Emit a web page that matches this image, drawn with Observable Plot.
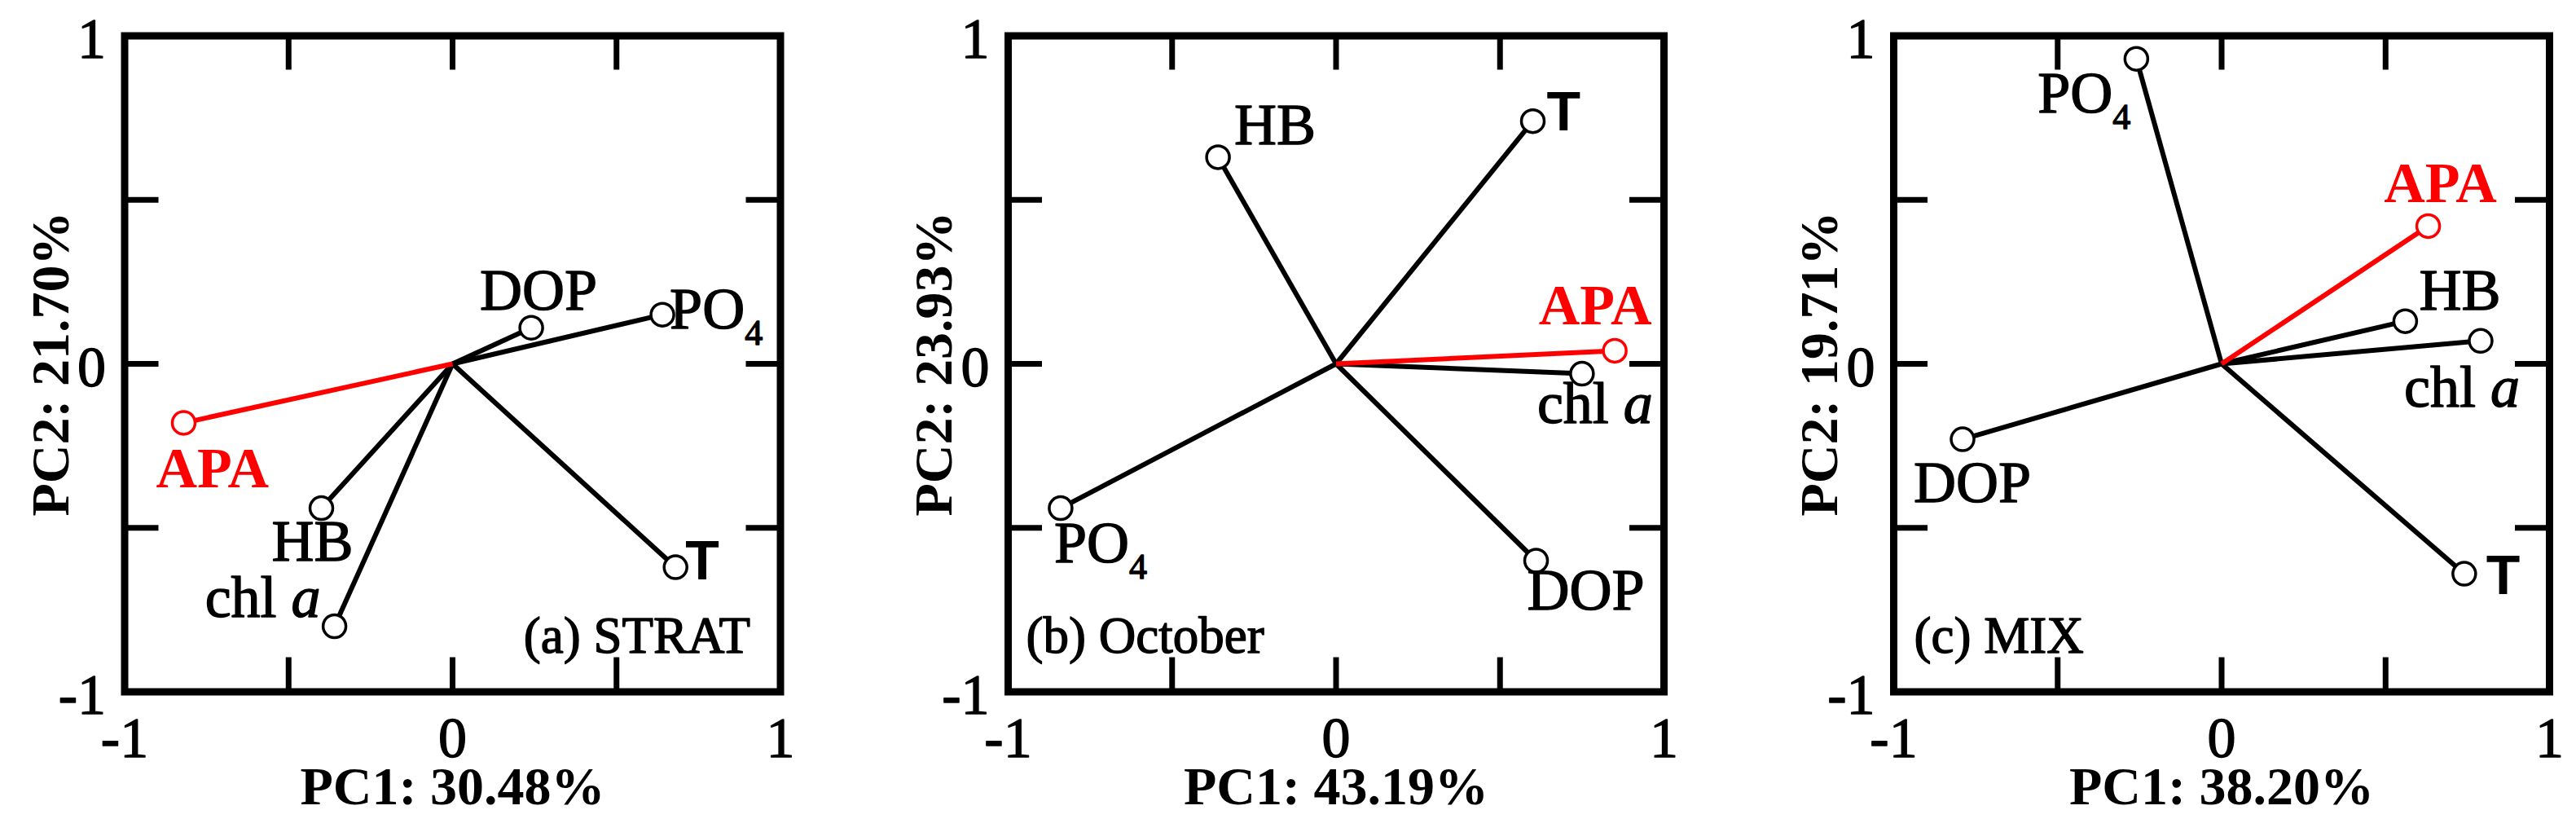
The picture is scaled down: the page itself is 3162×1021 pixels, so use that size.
<!DOCTYPE html>
<html><head><meta charset="utf-8">
<script src="https://cdn.jsdelivr.net/npm/d3@7"></script>
<script src="https://cdn.jsdelivr.net/npm/@observablehq/plot@0.6"></script>
<style>
html,body{margin:0;padding:0;background:#fff;}
#root{display:flex;width:3162px;height:1021px;}
</style></head><body><div id="root"></div>
<script>
// ---- data ----
const variables = ["APA", "DOP", "PO4", "HB", "chl a", "T"];
const panelTags = ["(a) STRAT", "(b) October", "(c) MIX"];
const pc1Labels = ["PC1: 30.48%", "PC1: 43.19%", "PC1: 38.20%"];
const pc2Labels = ["PC2: 21.70%", "PC2: 23.93%", "PC2: 19.71%"];
const stratPC1 = [-0.82, 0.24, 0.64, -0.40, -0.36, 0.68];
const stratPC2 = [-0.18, 0.11, 0.15, -0.44, -0.80, -0.62];
const octoberPC1 = [0.85, 0.61, -0.84, -0.36, 0.75, 0.60];
const octoberPC2 = [0.04, -0.60, -0.44, 0.63, -0.03, 0.74];
const mixPC1 = [0.63, -0.79, -0.26, 0.56, 0.79, 0.74];
const mixPC2 = [0.42, -0.23, 0.93, 0.13, 0.07, -0.64];
const axisTicks = [-1, 0, 1];
const innerTicks = [-0.5, 0, 0.5];

// ---- layout (label placement: text-anchor, dx, dy to baseline) ----
const placement = [
  {APA: ["start", -34, 79], DOP: ["middle", 9, -22], PO4: ["start", 9, 17], HB: ["middle", -11, 64], "chl a": ["end", -17, -12], T: ["start", 12, 15]},
  {APA: ["middle", -24, -32], DOP: ["start", -11, 60], PO4: ["start", -8, 66], HB: ["start", 20, -16], "chl a": ["middle", 16, 60], T: ["start", 17, 11]},
  {APA: ["middle", 15, -29], DOP: ["start", -60, 77], PO4: ["end", -7, 66], HB: ["start", 17, -14], "chl a": ["middle", -23, 81], T: ["start", 27, 25]}
];
const tagPlace = [["bottom-right", "end", -37], ["bottom-left", "start", 22], ["bottom-left", "start", 25]];
const marginsLeft = [152.5, 183, 216];
const serif = "'Liberation Serif', 'Times New Roman', serif";

function panel(i, pc1, pc2) {
  const rows = variables.map((v, k) => ({name: v, x: pc1[k], y: pc2[k]}));
  const W = 1054, H = 1021, mt = 43.5, mb = 172.5;
  const fw = 805, fh = H - mt - mb;
  const ml = marginsLeft[i], mr = W - ml - fw;
  const black = rows.filter(d => d.name !== "APA");
  const red = rows.filter(d => d.name === "APA");
  const labelMarks = rows.map(d => {
    const [anchor, dx, dy] = placement[i][d.name];
    const isT = d.name === "T", isAPA = d.name === "APA";
    return Plot.text([d], {
      x: "x", y: "y", text: "name", textAnchor: anchor, lineAnchor: "bottom", dx, dy,
      fontSize: isT ? 68 : (isAPA ? 70 : 72),
      fontFamily: isT ? "'Liberation Sans', Arial, sans-serif" : serif,
      fontWeight: (isT || isAPA) ? "bold" : "normal",
      fill: isAPA ? "#ff0000" : "black"
    });
  });
  const svg = Plot.plot({
    width: W, height: H,
    marginTop: mt, marginBottom: mb, marginLeft: ml, marginRight: mr,
    x: {domain: [-1, 1]}, y: {domain: [-1, 1]},
    style: {fontFamily: serif, fontSize: "70px", color: "black", background: "white", overflow: "visible"},
    marks: [
      Plot.ruleX(innerTicks, {x: d => d, insetTop: fh - 42, stroke: "black", strokeWidth: 7}),
      Plot.ruleX(innerTicks, {x: d => d, insetBottom: fh - 42, stroke: "black", strokeWidth: 7}),
      Plot.ruleY(innerTicks, {y: d => d, insetRight: fw - 42, stroke: "black", strokeWidth: 7}),
      Plot.ruleY(innerTicks, {y: d => d, insetLeft: fw - 42, stroke: "black", strokeWidth: 7}),
      Plot.frame({stroke: "black", strokeWidth: 9}),
      Plot.axisX({ticks: axisTicks, tickSize: 0, tickPadding: 30, tickFormat: d => String(d), fontSize: 70, label: null}),
      Plot.axisY({ticks: axisTicks, tickSize: 0, tickPadding: 23, tickFormat: d => String(d), fontSize: 70, label: null, dy: 5}),
      Plot.link(black, {x1: () => 0, y1: () => 0, x2: "x", y2: "y", stroke: "black", strokeWidth: 6}),
      Plot.link(red, {x1: () => 0, y1: () => 0, x2: "x", y2: "y", stroke: "#ff0000", strokeWidth: 6}),
      Plot.dot(black, {x: "x", y: "y", r: 14, fill: "white", stroke: "black", strokeWidth: 3.5}),
      Plot.dot(red, {x: "x", y: "y", r: 14, fill: "white", stroke: "#ff0000", strokeWidth: 3.5}),
      ...labelMarks,
      Plot.text([pc1Labels[i]], {frameAnchor: "bottom", textAnchor: "middle", lineAnchor: "bottom", dy: 138, fontWeight: "bold", fontSize: 66}),
      Plot.text([pc2Labels[i]], {frameAnchor: "left", textAnchor: "middle", lineAnchor: "bottom", rotate: -90, dx: -69.5, fontWeight: "bold", fontSize: 66}),
      Plot.text([panelTags[i]], {frameAnchor: tagPlace[i][0], textAnchor: tagPlace[i][1], lineAnchor: "bottom", dx: tagPlace[i][2], dy: -48, fontSize: 63})
    ]
  });
  const ns = "http://www.w3.org/2000/svg";
  svg.querySelectorAll("text").forEach(t => {
    if (t.textContent === "PO4") {
      t.textContent = "PO";
      const ts = document.createElementNS(ns, "tspan");
      ts.setAttribute("font-size", "44");
      ts.setAttribute("dy", "20");
      ts.textContent = "4";
      t.appendChild(ts);
    } else if (t.textContent === "chl a") {
      t.textContent = "chl ";
      const ts = document.createElementNS(ns, "tspan");
      ts.setAttribute("font-style", "italic");
      ts.textContent = "a";
      t.appendChild(ts);
    }
  });
  return svg;
}

const root = document.getElementById("root");
[panel(0, stratPC1, stratPC2), panel(1, octoberPC1, octoberPC2), panel(2, mixPC1, mixPC2)].forEach(svg => {
  root.appendChild(svg);
  // slightly heavier strokes for the regular-weight serif texts, as in the reference
  svg.querySelectorAll("text").forEach(t => {
    const cs = getComputedStyle(t);
    if (cs.fontWeight !== "700" && cs.fontWeight !== "bold") {
      t.style.stroke = cs.fill;
      t.style.strokeWidth = "1.4px";
      t.style.strokeLinejoin = "round";
    }
  });
});
</script>
</body></html>
